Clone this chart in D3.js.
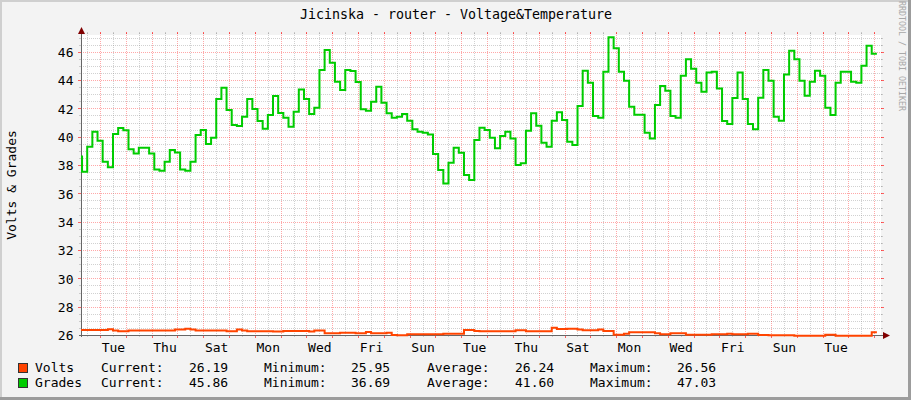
<!DOCTYPE html>
<html><head><meta charset="utf-8">
<script src="https://cdn.jsdelivr.net/npm/d3@7"></script>
<style>
html,body{margin:0;padding:0;background:#f3f3f3;}
svg{display:block;}
text{font-family:"DejaVu Sans Mono",monospace;}
</style></head><body>
<svg id="c" width="911" height="400"></svg>
<script>
// ---------- data ----------
const title = "Jicinska - router - Voltage&Temperature";
const yAxisTitle = "Volts & Grades";
const watermark = "RRDTOOL / TOBI OETIKER";
const seriesNames = ["Volts", "Grades"];
const seriesColors = ["#ff4400", "#00cc00"];
const statLabels = ["Current:", "Minimum:", "Average:", "Maximum:"];
const voltsStats = ["26.19", "25.95", "26.24", "26.56"];
const gradesStats = ["45.86", "36.69", "41.60", "47.03"];
const yTicks = [26, 28, 30, 32, 34, 36, 38, 40, 42, 44, 46];
const yMin = 26, yMax = 47.18;
const rangeStart = Date.UTC(2013, 0, 7, 6, 20);   // Monday morning
const rangeDays = 31;
const firstSample = Date.UTC(2013, 0, 7, 2, 30);
const stepHours = 4.8;

const volts = [
26.35,26.35,26.35,26.35,26.35,26.35,26.40,26.31,26.26,26.26,
26.31,26.31,26.31,26.31,26.31,26.31,26.31,26.31,26.31,26.38,
26.38,26.45,26.38,26.31,26.31,26.31,26.31,26.31,26.31,26.26,
26.26,26.38,26.31,26.26,26.26,26.26,26.26,26.26,26.24,26.24,
26.28,26.28,26.28,26.28,26.28,26.24,26.31,26.31,26.12,26.12,
26.12,26.16,26.16,26.16,26.12,26.12,26.21,26.12,26.12,26.12,
26.16,26.00,25.98,25.98,26.05,26.05,26.05,26.05,26.05,26.05,
26.05,26.09,26.09,26.09,26.09,26.35,26.35,26.28,26.26,26.26,
26.26,26.26,26.26,26.26,26.26,26.33,26.33,26.26,26.26,26.26,
26.26,26.26,26.52,26.42,26.42,26.45,26.45,26.38,26.33,26.33,
26.33,26.38,26.28,26.28,26.02,26.02,26.09,26.19,26.19,26.19,
26.19,26.19,26.12,26.05,26.05,26.12,26.12,26.12,26.02,26.02,
26.02,26.02,26.02,26.05,26.05,26.05,26.09,26.05,26.05,26.05,
26.09,26.09,26.00,26.00,25.98,25.98,25.98,25.98,25.98,25.95,
25.95,25.95,25.95,25.95,25.95,26.02,26.02,25.95,25.95,25.95,
25.95,25.95,25.95,25.95,26.19
];
const grades = [
38.60,37.53,39.29,40.35,39.72,38.24,37.84,40.19,40.61,40.45,
39.11,38.82,39.22,39.22,38.82,37.69,37.60,38.24,39.06,38.89,
37.69,37.60,38.24,40.12,40.47,39.48,39.93,42.66,43.46,41.88,
40.82,40.75,41.41,42.66,41.95,41.11,40.56,41.53,42.87,41.67,
41.34,40.71,41.76,43.34,42.66,41.60,42.05,44.71,46.12,45.22,
43.88,43.29,44.71,44.64,43.86,41.93,41.84,42.47,43.53,42.40,
41.65,41.34,41.41,41.60,41.13,40.52,40.35,40.28,40.16,38.78,
37.65,36.69,38.16,39.22,38.87,37.29,36.94,39.76,40.64,40.47,
39.93,39.18,40.05,40.35,39.88,38.00,38.12,40.42,41.65,40.78,
39.58,39.29,41.13,41.72,41.18,39.65,39.41,42.16,44.66,43.81,
41.46,41.34,44.59,47.03,46.24,44.59,43.95,42.12,41.55,41.55,
40.28,39.88,42.24,43.58,43.25,41.46,41.34,44.31,45.46,44.80,
43.81,43.18,44.54,44.59,43.41,41.11,40.89,42.73,44.54,42.66,
40.89,40.52,42.75,44.71,43.95,41.41,41.13,44.40,46.07,45.46,
43.95,42.89,43.88,44.66,44.31,42.05,41.53,43.81,44.59,44.59,
43.88,43.81,45.01,46.42,45.86
];

// ---------- layout ----------
const W = 911, H = 400;
const X0 = 81, X1 = 881, Y0 = 35, Y1 = 335;
const DAY = 864e5, stepMs = stepHours * 3600e3;
const svg = d3.select("#c");
const FONT = 13;

const x = d3.scaleUtc().domain([new Date(rangeStart), new Date(rangeStart + rangeDays * DAY)]).range([X0, X1]);
const y = d3.scaleLinear().domain([yMin, yMax]).range([Y1, Y0]);

// background + shading borders
svg.append("rect").attr("width", W).attr("height", H).attr("fill", "#f3f3f3");
svg.append("rect").attr("x", 0).attr("y", 0).attr("width", W).attr("height", 2).attr("fill", "#cfcfcf");
svg.append("rect").attr("x", 0).attr("y", 0).attr("width", 2).attr("height", H).attr("fill", "#cfcfcf");
svg.append("rect").attr("x", W - 3).attr("y", 0).attr("width", 3).attr("height", H).attr("fill", "#9c9c9c");
svg.append("rect").attr("x", 0).attr("y", H - 3).attr("width", W).attr("height", 3).attr("fill", "#9c9c9c");

// canvas
svg.append("rect").attr("x", X0).attr("y", Y0).attr("width", X1 - X0).attr("height", Y1 - Y0).attr("fill", "#ffffff");

// grid
const minorCol = "rgba(140,140,140,0.4)", majorCol = "rgba(255,0,0,0.34)";
const grid = svg.append("g").attr("shape-rendering", "crispEdges");
const hMinor = d3.range(yMin + 0.5, yMax, 0.5).filter(v => v % 2 !== 0);
hMinor.forEach(v => {
  const yy = Math.round(y(v)) + 0.5;
  grid.append("line").attr("x1", X0).attr("x2", X1 + 2).attr("y1", yy).attr("y2", yy)
    .attr("stroke", minorCol).attr("stroke-dasharray", "1,1");
  grid.append("line").attr("x1", X0 - 2).attr("x2", X0).attr("y1", yy).attr("y2", yy).attr("stroke", minorCol);
  grid.append("line").attr("x1", X1).attr("x2", X1 + 2).attr("y1", yy).attr("y2", yy).attr("stroke", minorCol);
});
yTicks.filter(v => v > yMin).forEach(v => {
  const yy = Math.round(y(v)) + 0.5;
  grid.append("line").attr("x1", X0).attr("x2", X1 + 2).attr("y1", yy).attr("y2", yy)
    .attr("stroke", majorCol).attr("stroke-dasharray", "1,1");
  grid.append("line").attr("x1", X0 - 3).attr("x2", X0).attr("y1", yy).attr("y2", yy).attr("stroke", "rgba(255,0,0,0.6)");
  grid.append("line").attr("x1", X1).attr("x2", X1 + 3).attr("y1", yy).attr("y2", yy).attr("stroke", "rgba(255,0,0,0.6)");
});
const days = d3.utcDay.range(new Date(rangeStart), new Date(rangeStart + rangeDays * DAY));
const halfDays = d3.utcHour.every(12).range(new Date(rangeStart), new Date(rangeStart + rangeDays * DAY));
halfDays.forEach(t => {
  const major = t.getUTCHours() === 0;
  const xx = Math.round(x(t)) + 0.5;
  const c = major ? majorCol : minorCol;
  grid.append("line").attr("x1", xx).attr("x2", xx).attr("y1", Y0 - 2).attr("y2", Y1)
    .attr("stroke", c).attr("stroke-dasharray", "1,1");
  grid.append("line").attr("x1", xx).attr("x2", xx).attr("y1", Y1).attr("y2", Y1 + (major ? 3 : 2))
    .attr("stroke", major ? "rgba(255,0,0,0.6)" : minorCol);
  grid.append("line").attr("x1", xx).attr("x2", xx).attr("y1", Y0 - 3).attr("y2", Y0 - 1)
    .attr("stroke", major ? "rgba(255,0,0,0.6)" : minorCol);
});

// axes
const axisCol = "#666666";
const yAxis = svg.append("g").attr("transform", `translate(${X0 + 0.5},0)`)
  .call(d3.axisLeft(y).tickValues(yTicks).tickSize(0).tickPadding(8).tickSizeOuter(0).tickFormat(d3.format("d")));
yAxis.select(".domain").attr("stroke", axisCol).attr("d", `M0,${Y1 + 2}V${Y0 - 3}`);
yAxis.selectAll("text").attr("font-size", FONT).attr("fill", "#000").attr("font-family", "DejaVu Sans Mono").attr("dy", "0.36em");

const labelTimes = [];
{
  const firstTue = days.find(d => d.getUTCDay() === 2);
  for (let t = +firstTue; t < rangeStart + rangeDays * DAY - DAY / 2; t += 2 * DAY) labelTimes.push(new Date(t + DAY / 2));
}
const xAxis = svg.append("g").attr("transform", `translate(0,${Y1 + 0.5})`)
  .call(d3.axisBottom(x).tickValues(labelTimes).tickSize(0).tickPadding(7).tickSizeOuter(0).tickFormat(d3.utcFormat("%a")));
xAxis.select(".domain").attr("stroke", axisCol).attr("d", `M${X0 - 2},0H${X1 + 3}`);
xAxis.selectAll("text").attr("font-size", FONT).attr("fill", "#000").attr("font-family", "DejaVu Sans Mono");

// series (drawn over the axis, like rrdtool)
svg.append("clipPath").attr("id", "clip").append("rect")
  .attr("x", X0).attr("y", Y0).attr("width", X1 - X0).attr("height", Y1 - Y0 + 2);
function pts(arr) {
  const p = arr.map((v, i) => [firstSample + i * stepMs, v]);
  p.push([firstSample + arr.length * stepMs, arr[arr.length - 1]]);
  return p;
}
const line = d3.line().x(d => x(new Date(d[0]))).y(d => y(d[1])).curve(d3.curveStepAfter);
const gl = svg.append("g").attr("clip-path", "url(#clip)");
[volts, grades].forEach((arr, i) => {
  gl.append("path").attr("d", line(pts(arr))).attr("fill", "none")
    .attr("stroke", seriesColors[i]).attr("stroke-width", 2).attr("stroke-linejoin", "miter");
});

// arrows
const arrowCol = "#800000";
svg.append("path").attr("d", `M${X0 - 3},${Y0 - 1}L${X0 + 0.5},${Y0 - 8}L${X0 + 4},${Y0 - 1}Z`).attr("fill", arrowCol);
svg.append("path").attr("d", `M${X1 + 2},${Y1 - 3}L${X1 + 9},${Y1 + 0.5}L${X1 + 2},${Y1 + 4}Z`).attr("fill", arrowCol);

// title
svg.append("text").attr("x", 456).attr("y", 19).attr("text-anchor", "middle")
  .attr("font-size", 13.3).attr("fill", "#000").text(title);

// y axis title
svg.append("text").attr("transform", `translate(16,185) rotate(-90)`).attr("text-anchor", "middle")
  .attr("font-size", FONT).attr("fill", "#000").text(yAxisTitle);

// watermark
svg.append("text").attr("transform", `translate(899,56) rotate(90)`).attr("text-anchor", "middle")
  .attr("font-size", 8.3).attr("fill", "#a8a8a8").text(watermark);

// legend
const legendRows = [372, 387];
const labelX = [101, 264, 427, 590];
const valueX = [189, 351, 515, 677];
[voltsStats, gradesStats].forEach((stats, r) => {
  const by = legendRows[r];
  svg.append("rect").attr("x", 18.5).attr("y", by - 8.5).attr("width", 9).attr("height", 9)
    .attr("fill", seriesColors[r]).attr("stroke", "#333").attr("stroke-width", 1);
  svg.append("text").attr("x", 35).attr("y", by).attr("font-size", FONT).text(seriesNames[r]);
  statLabels.forEach((l, k) => {
    svg.append("text").attr("x", labelX[k]).attr("y", by).attr("font-size", FONT).text(l);
    svg.append("text").attr("x", valueX[k]).attr("y", by).attr("font-size", FONT).text(stats[k]);
  });
});
</script>
</body></html>
